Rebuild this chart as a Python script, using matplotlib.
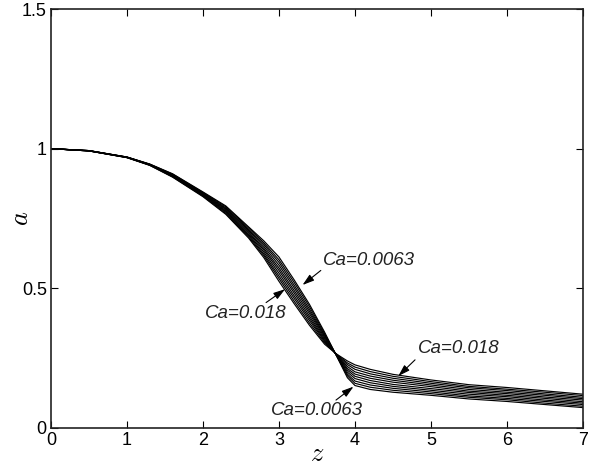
import matplotlib
matplotlib.use("Agg")
import matplotlib.pyplot as plt

# axial coordinate
z = [0, 0.5, 1.0, 1.3, 1.6, 2.0, 2.3, 2.6, 2.8, 3.0, 3.2, 3.4, 3.6, 3.75,
     3.9, 4.0, 4.2, 4.5, 5.0, 5.5, 6.0, 6.5, 7.0]

# radius profiles a(z), from Ca = 0.0063 up to Ca = 0.018
ca_0063 = [1.000, .993, .970, .945, .910, .845, .795, .720, .670, .612, .530, .443, .343, .262,
           .180, .152, .138, .128, .117, .104, .095, .084, .073]
ca_0076 = [1.000, .993, .970, .944, .909, .843, .792, .716, .663, .602, .521, .435, .338, .262,
           .187, .160, .146, .135, .123, .110, .101, .089, .078]
ca_0089 = [1.000, .993, .970, .944, .907, .841, .788, .711, .657, .593, .511, .426, .333, .263,
           .193, .168, .154, .142, .129, .115, .106, .095, .084]
ca_0102 = [1.000, .993, .969, .943, .906, .839, .785, .707, .650, .583, .502, .418, .329, .263,
           .200, .177, .162, .149, .135, .121, .112, .100, .089]
ca_0115 = [1.000, .993, .969, .943, .905, .837, .782, .702, .643, .573, .492, .410, .324, .264,
           .207, .185, .170, .156, .141, .127, .117, .106, .094]
ca_0128 = [1.000, .992, .969, .942, .903, .836, .778, .698, .637, .564, .483, .401, .319, .264,
           .213, .193, .178, .164, .148, .132, .123, .111, .100]
ca_0141 = [1.000, .992, .969, .942, .902, .834, .775, .693, .630, .554, .473, .393, .314, .265,
           .220, .201, .186, .171, .154, .138, .128, .117, .105]
ca_0154 = [1.000, .992, .968, .941, .901, .832, .772, .689, .623, .544, .464, .385, .310, .265,
           .227, .210, .194, .178, .160, .144, .134, .122, .110]
ca_0167 = [1.000, .992, .968, .941, .899, .830, .768, .684, .617, .535, .454, .376, .305, .266,
           .233, .218, .202, .185, .166, .149, .139, .128, .116]
ca_0180 = [1.000, .992, .968, .940, .898, .828, .765, .680, .610, .525, .445, .368, .300, .266,
           .240, .226, .210, .192, .172, .155, .145, .133, .121]

curves = [ca_0063, ca_0076, ca_0089, ca_0102, ca_0115,
          ca_0128, ca_0141, ca_0154, ca_0167, ca_0180]

x_ticks = [0, 1, 2, 3, 4, 5, 6, 7]
y_ticks = [0, 0.5, 1, 1.5]
y_tick_labels = ["0", "0.5", "1", "1.5"]

# annotations: (text, text position, arrow tail, arrow tip)
notes = [
    ("Ca=0.0063", (3.58, 0.599), (3.55, 0.564), (3.31, 0.512)),
    ("Ca=0.018", (2.03, 0.409), (2.83, 0.449), (3.08, 0.497)),
    ("Ca=0.018", (4.83, 0.286), (4.79, 0.244), (4.57, 0.186)),
    ("Ca=0.0063", (2.89, 0.061), (3.75, 0.100), (3.98, 0.148)),
]

plt.rcParams['font.family'] = ['Liberation Sans', 'DejaVu Sans']
plt.rcParams['mathtext.fontset'] = 'cm'

fig = plt.figure(figsize=(6.02, 4.67), dpi=100)
ax = fig.add_axes([51 / 602, 39 / 467, 532 / 602, 419 / 467])

for c in curves:
    ax.plot(z, c, color='black', lw=0.85)

ax.set_xlim(0, 7)
ax.set_ylim(0, 1.5)
ax.set_xticks(x_ticks)
ax.set_xticklabels([str(v) for v in x_ticks])
ax.set_yticks(y_ticks)
ax.set_yticklabels(y_tick_labels)
ax.tick_params(direction='in', length=5, width=0.8, top=True, right=True,
               labelsize=13, pad=3, colors='black')
for s in ax.spines.values():
    s.set_linewidth(1.2)
    s.set_color('#222222')

ax.text(0.5, -0.079, '$z$', transform=ax.transAxes, fontsize=19,
        ha='center', va='baseline')
ax.text(-0.043, 0.501, '$a$', transform=ax.transAxes, fontsize=19,
        ha='center', va='baseline', rotation=90, rotation_mode='anchor')

for txt, tpos, tail, tip in notes:
    ax.text(tpos[0], tpos[1], txt, fontsize=13.5, fontstyle='italic',
            ha='left', va='center', color='#222222')
    ax.annotate('', xy=tip, xytext=tail,
                arrowprops=dict(arrowstyle='-|>,head_length=0.7,head_width=0.22',
                                color='black', lw=0.8, shrinkA=0, shrinkB=0))

fig.savefig('out.png', dpi=100)
